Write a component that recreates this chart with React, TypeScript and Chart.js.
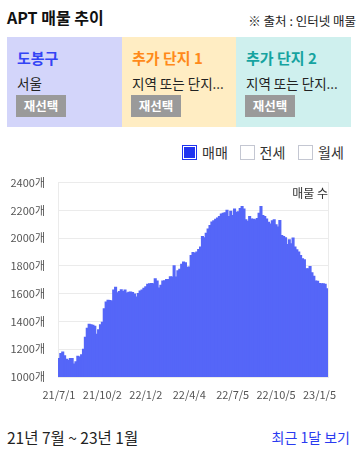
import React, { useEffect, useRef } from "react";
import { Chart, registerables } from "chart.js";

Chart.register(...registerables);

// ---- data ----
const START_DATE = "21/7/1";
const STEP_DAYS = 4;
const TICK_LABELS = ["21/7/1", "21/10/2", "22/1/2", "22/4/4", "22/7/5", "22/10/5", "23/1/5"];
const Y_TICKS = [1000, 1200, 1400, 1600, 1800, 2000, 2200, 2400];
const SERIES_LABEL = "매물 수";
const LISTINGS = [
  1132, 1168, 1180, 1153, 1127, 1120, 1132, 1132, 1093, 1110,
  1149, 1144, 1160, 1200, 1285, 1350, 1380, 1376, 1372, 1365,
  1307, 1340, 1375, 1394, 1490, 1540, 1552, 1550, 1546, 1625,
  1645, 1606, 1615, 1628, 1615, 1625, 1604, 1610, 1612, 1608,
  1597, 1575, 1600, 1618, 1625, 1638, 1650, 1668, 1671, 1672,
  1670, 1707, 1690, 1640, 1660, 1690, 1692, 1702, 1702, 1722,
  1720, 1800, 1720, 1765, 1775, 1812, 1827, 1822, 1790, 1792,
  1875, 1895, 1891, 1900, 1918, 1935, 2011, 2002, 2035, 2065,
  2090, 2115, 2125, 2136, 2145, 2155, 2174, 2179, 2182, 2200,
  2155, 2193, 2162, 2210, 2186, 2190, 2212, 2227, 2210, 2131,
  2121, 2155, 2138, 2136, 2131, 2140, 2179, 2227, 2162, 2155,
  2138, 2114, 2102, 2125, 2131, 2095, 2080, 2126, 2018, 2011,
  2002, 1954, 1987, 1958, 2000, 1935, 1915, 1899, 1875, 1851,
  1843, 1779, 1779, 1795, 1750, 1725, 1690, 1688, 1672, 1670,
  1670, 1668, 1635,
];
const LEGEND_ITEMS = ["매매", "전세", "월세"];
const LEGEND_CHECKED = [true, false, false];

const CARDS = [
  { title: "도봉구", sub: "서울", bg: "#d3d5fa", color: "#3344f5" },
  { title: "추가 단지 1", sub: "지역 또는 단지...", bg: "#ffedc3", color: "#ff8a1a" },
  { title: "추가 단지 2", sub: "지역 또는 단지...", bg: "#cff0ee", color: "#16a3a0" },
];

const FONT = "'Noto Sans CJK KR', 'Noto Sans', sans-serif";

function dayNum(s: string): number {
  const [y, m, d] = s.split("/").map(Number);
  return Math.round(Date.UTC(2000 + y, m - 1, d) / 86400000);
}
function fmt(n: number): string {
  const dt = new Date(n * 86400000);
  return `${dt.getUTCFullYear() - 2000}/${dt.getUTCMonth() + 1}/${dt.getUTCDate()}`;
}

export default function App() {
  const ref = useRef<HTMLCanvasElement | null>(null);

  useEffect(() => {
    if (!ref.current) return;
    const start = dayNum(START_DATE);
    const labels = LISTINGS.map((_, i) => fmt(start + i * STEP_DAYS));
    const tickDays = TICK_LABELS.map(dayNum);

    const cornerLabel = {
      id: "cornerLabel",
      afterDraw(chart: any) {
        const { ctx, chartArea } = chart;
        ctx.save();
        ctx.font = `12px ${FONT}`;
        ctx.fillStyle = "#333";
        ctx.textAlign = "right";
        ctx.textBaseline = "middle";
        ctx.fillText(chart.data.datasets[0].label, chartArea.right, chartArea.top + 11);
        ctx.restore();
      },
    };

    const chart = new Chart(ref.current, {
      type: "bar",
      data: {
        labels,
        datasets: [
          {
            label: SERIES_LABEL,
            data: LISTINGS,
            backgroundColor: "#5566f8",
            borderWidth: 0,
            barPercentage: 1,
            categoryPercentage: 1,
            inflateAmount: 0.6,
          } as any,
        ],
      },
      options: {
        animation: false,
        responsive: false,
        devicePixelRatio: 1,
        layout: { padding: { top: 5, right: 12, bottom: 9, left: 0 } },
        plugins: { legend: { display: false }, tooltip: { enabled: false } },
        scales: {
          x: {
            grid: { display: false, drawTicks: false },
            border: { display: false },
            afterFit: (scale: any) => {
              scale.height = 24;
            },
            ticks: {
              autoSkip: false,
              maxRotation: 0,
              minRotation: 0,
              padding: 11,
              color: "#555",
              font: { size: 11, family: FONT },
              callback: (_v: any, i: number) => {
                const d = start + i * STEP_DAYS;
                const k = tickDays.findIndex((t) => t >= d && t < d + STEP_DAYS);
                return k >= 0 ? TICK_LABELS[k] : "";
              },
            },
          },
          y: {
            min: Y_TICKS[0],
            max: Y_TICKS[Y_TICKS.length - 1],
            afterBuildTicks: (scale: any) => {
              scale.ticks = Y_TICKS.map((v) => ({ value: v }));
            },
            afterFit: (scale: any) => {
              scale.width = 58;
            },
            grid: { color: "#ebebeb", drawTicks: false },
            border: { color: "#ebebeb" },
            ticks: {
              padding: 13,
              color: "#555",
              font: { size: 11, family: FONT },
              callback: (v: any) => `${v}개`,
            },
          },
          y2: {
            position: "right",
            grid: { display: false, drawTicks: false },
            border: { color: "#ebebeb" },
            ticks: { display: false },
            afterFit: (scale: any) => {
              scale.width = 0;
            },
          },
        },
      } as any,
      plugins: [cornerLabel],
    });
    return () => chart.destroy();
  }, []);

  return (
    <div
      style={{
        position: "absolute",
        left: 0,
        top: 0,
        width: 362,
        height: 451,
        background: "#fff",
        fontFamily: FONT,
        overflow: "hidden",
      }}
    >
      <div style={{ position: "absolute", left: 7, top: 7, lineHeight: "20px", fontSize: 16, fontWeight: 700, color: "#111" }}>
        APT 매물 추이
      </div>
      <div style={{ position: "absolute", right: 6, top: 12, lineHeight: "18px", fontSize: 12.5, color: "#222" }}>
        ※ 출처 : 인터넷 매물
      </div>

      {CARDS.map((c, i) => {
        const lefts = [7, 122, 236, 351];
        return (
          <div
            key={i}
            style={{
              position: "absolute",
              left: lefts[i],
              width: lefts[i + 1] - lefts[i],
              top: 37,
              height: 90,
              background: c.bg,
            }}
          >
            <div style={{ position: "absolute", left: 10, top: 11, lineHeight: "20px", fontSize: 15, fontWeight: 700, color: c.color, whiteSpace: "nowrap" }}>
              {c.title}
            </div>
            <div style={{ position: "absolute", left: 10, top: 36, lineHeight: "20px", fontSize: 13.5, color: "#222", whiteSpace: "nowrap" }}>
              {c.sub}
            </div>
            <div
              style={{
                position: "absolute",
                left: 9,
                top: 58,
                width: 50,
                height: 22,
                background: "#9a9a9a",
                color: "#fff",
                fontSize: 12.5,
                fontWeight: 700,
                lineHeight: "22px",
                textAlign: "center",
              }}
            >
              재선택
            </div>
          </div>
        );
      })}

      {LEGEND_ITEMS.map((t, i) => {
        const boxX = [182, 239.5, 298][i];
        const checked = LEGEND_CHECKED[i];
        return (
          <React.Fragment key={t}>
            <div
              style={{
                position: "absolute",
                left: boxX,
                top: 145,
                width: 15,
                height: 15,
                boxSizing: "border-box",
                border: checked ? "1.5px solid #1f33f0" : "1px solid #c4c7d2",
                background: checked ? "#1f33f0" : "#fff",
                boxShadow: checked ? "inset 0 0 0 1px #fff" : "none",
              }}
            />
            <div style={{ position: "absolute", left: boxX + 20, top: 143, lineHeight: "19px", fontSize: 14, color: "#333" }}>{t}</div>
          </React.Fragment>
        );
      })}

      <canvas ref={ref} width={340} height={247} style={{ position: "absolute", left: 0, top: 163, width: 340, height: 247 }} />

      <div style={{ position: "absolute", left: 7, top: 427, lineHeight: "20px", fontSize: 15.5, color: "#222" }}>
        21년 7월 ~ 23년 1월
      </div>
      <div style={{ position: "absolute", right: 12, top: 427, lineHeight: "20px", fontSize: 14, color: "#2a3bf0" }}>
        최근 1달 보기
      </div>
    </div>
  );
}
